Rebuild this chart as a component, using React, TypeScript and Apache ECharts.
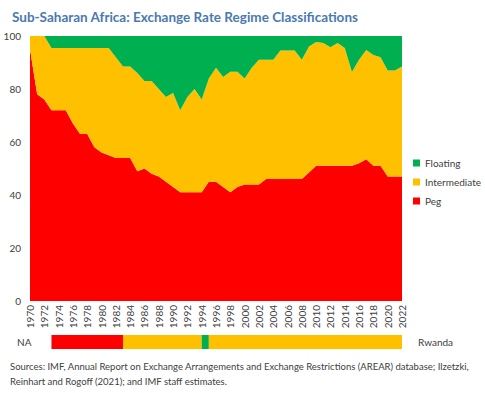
import React, { useEffect, useRef } from "react";
import * as echarts from "echarts";

const years: string[] = [];
for (let y = 1970; y <= 2022; y++) years.push(String(y));

const peg = [95, 78, 76, 72, 72, 72, 67, 63, 63, 58, 56, 55, 54, 54, 54, 49, 50, 48, 47, 45, 43, 41, 41, 41, 41, 45, 45, 43, 41, 43, 44, 44, 44, 46, 46, 46, 46, 46, 46, 48.5, 51, 51, 51, 51, 51, 51, 52, 53.5, 51, 51, 47, 47, 47];
const intermediate = [5, 22, 24, 23.5, 23.5, 23.5, 28.5, 32.5, 32.5, 37.5, 39.5, 40.5, 38, 34.5, 34.5, 37, 33, 35, 33, 32, 35.5, 31, 36, 39, 35, 39, 43, 41.5, 45.5, 43.5, 40, 44, 47, 45, 45, 48.5, 48.5, 48.5, 45, 47.5, 46.7, 46.4, 44.8, 46.4, 44.5, 35.4, 39, 41.2, 41.8, 41, 40, 40, 41.5];
const floating = [0, 0, 0, 4.5, 4.5, 4.5, 4.5, 4.5, 4.5, 4.5, 4.5, 4.5, 8, 11.5, 11.5, 14, 17, 17, 20, 23, 21.5, 28, 23, 20, 24, 16, 12, 15.5, 13.5, 13.5, 16, 12, 9, 9, 9, 5.5, 5.5, 5.5, 9, 4, 2.3, 2.6, 4.2, 2.6, 4.5, 13.6, 9, 5.3, 7.2, 8, 13, 13, 11.5];

// Rwanda regime by year, 1970..2021 (each cell spans [year, year+1])
const rwandaRegime: string[] = [
  ...Array(3).fill("NA"),
  ...Array(10).fill("Peg"),
  ...Array(11).fill("Intermediate"),
  "Floating",
  ...Array(27).fill("Intermediate"),
];

const COLORS: Record<string, string> = {
  Peg: "#FF0000",
  Intermediate: "#FFC000",
  Floating: "#00B050",
};

const FONT = "Lato";
const TXT = "#404040";

export default function App() {
  const ref = useRef<HTMLDivElement>(null);
  useEffect(() => {
    if (!ref.current) return;
    const chart = echarts.init(ref.current, null, { renderer: "svg" });

    // merge consecutive years of the same regime into runs
    const runs: [number, number, string][] = [];
    rwandaRegime.forEach((r, i) => {
      const y = 1970 + i;
      const last = runs[runs.length - 1];
      if (last && last[2] === r) last[1] = y + 1;
      else runs.push([y, y + 1, r]);
    });
    const rwandaData = runs.filter((d) => d[2] !== "NA");

    const areaSeries = (name: string, data: number[]) => ({
      name,
      type: "line",
      stack: "total",
      data,
      showSymbol: false,
      symbol: "none",
      lineStyle: { width: 0 },
      itemStyle: { color: COLORS[name] },
      areaStyle: { color: COLORS[name], opacity: 1 },
      xAxisIndex: 0,
      yAxisIndex: 0,
    });

    chart.setOption({
      animation: false,
      textStyle: { fontFamily: FONT },
      title: {
        text: "Sub-Saharan Africa: Exchange Rate Regime Classifications",
        left: 7,
        top: 5,
        textStyle: { fontFamily: FONT, fontSize: 13.5, fontWeight: "bold", color: "#4A7AB0" },
      },
      legend: {
        orient: "vertical",
        left: 413,
        top: 158,
        padding: 0,
        icon: "rect",
        itemWidth: 7,
        itemHeight: 7,
        itemGap: 9,
        data: ["Floating", "Intermediate", "Peg"],
        textStyle: { fontFamily: FONT, fontSize: 10, color: TXT },
      },
      grid: [
        { left: 30, right: 83, top: 36, bottom: 92 },
        { left: 30, right: 83, top: 335, height: 14 },
      ],
      xAxis: [
        {
          type: "category",
          gridIndex: 0,
          data: years,
          boundaryGap: false,
          axisLine: { show: false },
          axisTick: { show: false },
          axisLabel: {
            rotate: 90,
            interval: 1,
            fontSize: 10,
            color: TXT,
            margin: 4,
            fontFamily: FONT,
          },
        },
        {
          type: "value",
          gridIndex: 1,
          min: 1970,
          max: 2022,
          show: false,
        },
      ],
      yAxis: [
        {
          type: "value",
          gridIndex: 0,
          min: 0,
          max: 100,
          interval: 20,
          splitLine: { show: false },
          axisLine: { show: false },
          axisTick: { show: false },
          axisLabel: { fontSize: 10, color: TXT, margin: 9, fontFamily: FONT },
        },
        {
          type: "value",
          gridIndex: 1,
          min: 0,
          max: 1,
          show: false,
        },
      ],
      series: [
        areaSeries("Peg", peg),
        areaSeries("Intermediate", intermediate),
        areaSeries("Floating", floating),
        {
          type: "custom",
          name: "Rwanda",
          xAxisIndex: 1,
          yAxisIndex: 1,
          data: rwandaData,
          renderItem: (params: any, api: any) => {
            const p0 = api.coord([api.value(0), 1]);
            const p1 = api.coord([api.value(1), 0]);
            const regime = rwandaData[params.dataIndex][2] as string;
            return {
              type: "rect",
              shape: { x: p0[0], y: p0[1], width: p1[0] - p0[0], height: p1[1] - p0[1] },
              style: { fill: COLORS[regime] },
            };
          },
        },
      ],
      graphic: [
        {
          type: "text",
          left: 17,
          top: 337,
          style: { text: "NA", fontSize: 10, fill: TXT, fontFamily: FONT },
        },
        {
          type: "text",
          left: 418,
          top: 337,
          style: { text: "Rwanda", fontSize: 10, fill: TXT, fontFamily: FONT },
        },
        {
          type: "text",
          left: 10,
          top: 359,
          style: {
            text:
              "Sources: IMF, Annual Report on Exchange Arrangements and Exchange Restrictions (AREAR) database; Ilzetzki,\nReinhart and Rogoff (2021); and IMF staff estimates.",
            fontSize: 9.5,
            lineHeight: 15,
            fill: TXT,
            fontFamily: FONT,
          },
        },
      ],
    });

    return () => chart.dispose();
  }, []);

  return (
    <div
      ref={ref}
      style={{ position: "absolute", left: 0, top: 0, width: 485, height: 393, background: "#fff" }}
    />
  );
}
